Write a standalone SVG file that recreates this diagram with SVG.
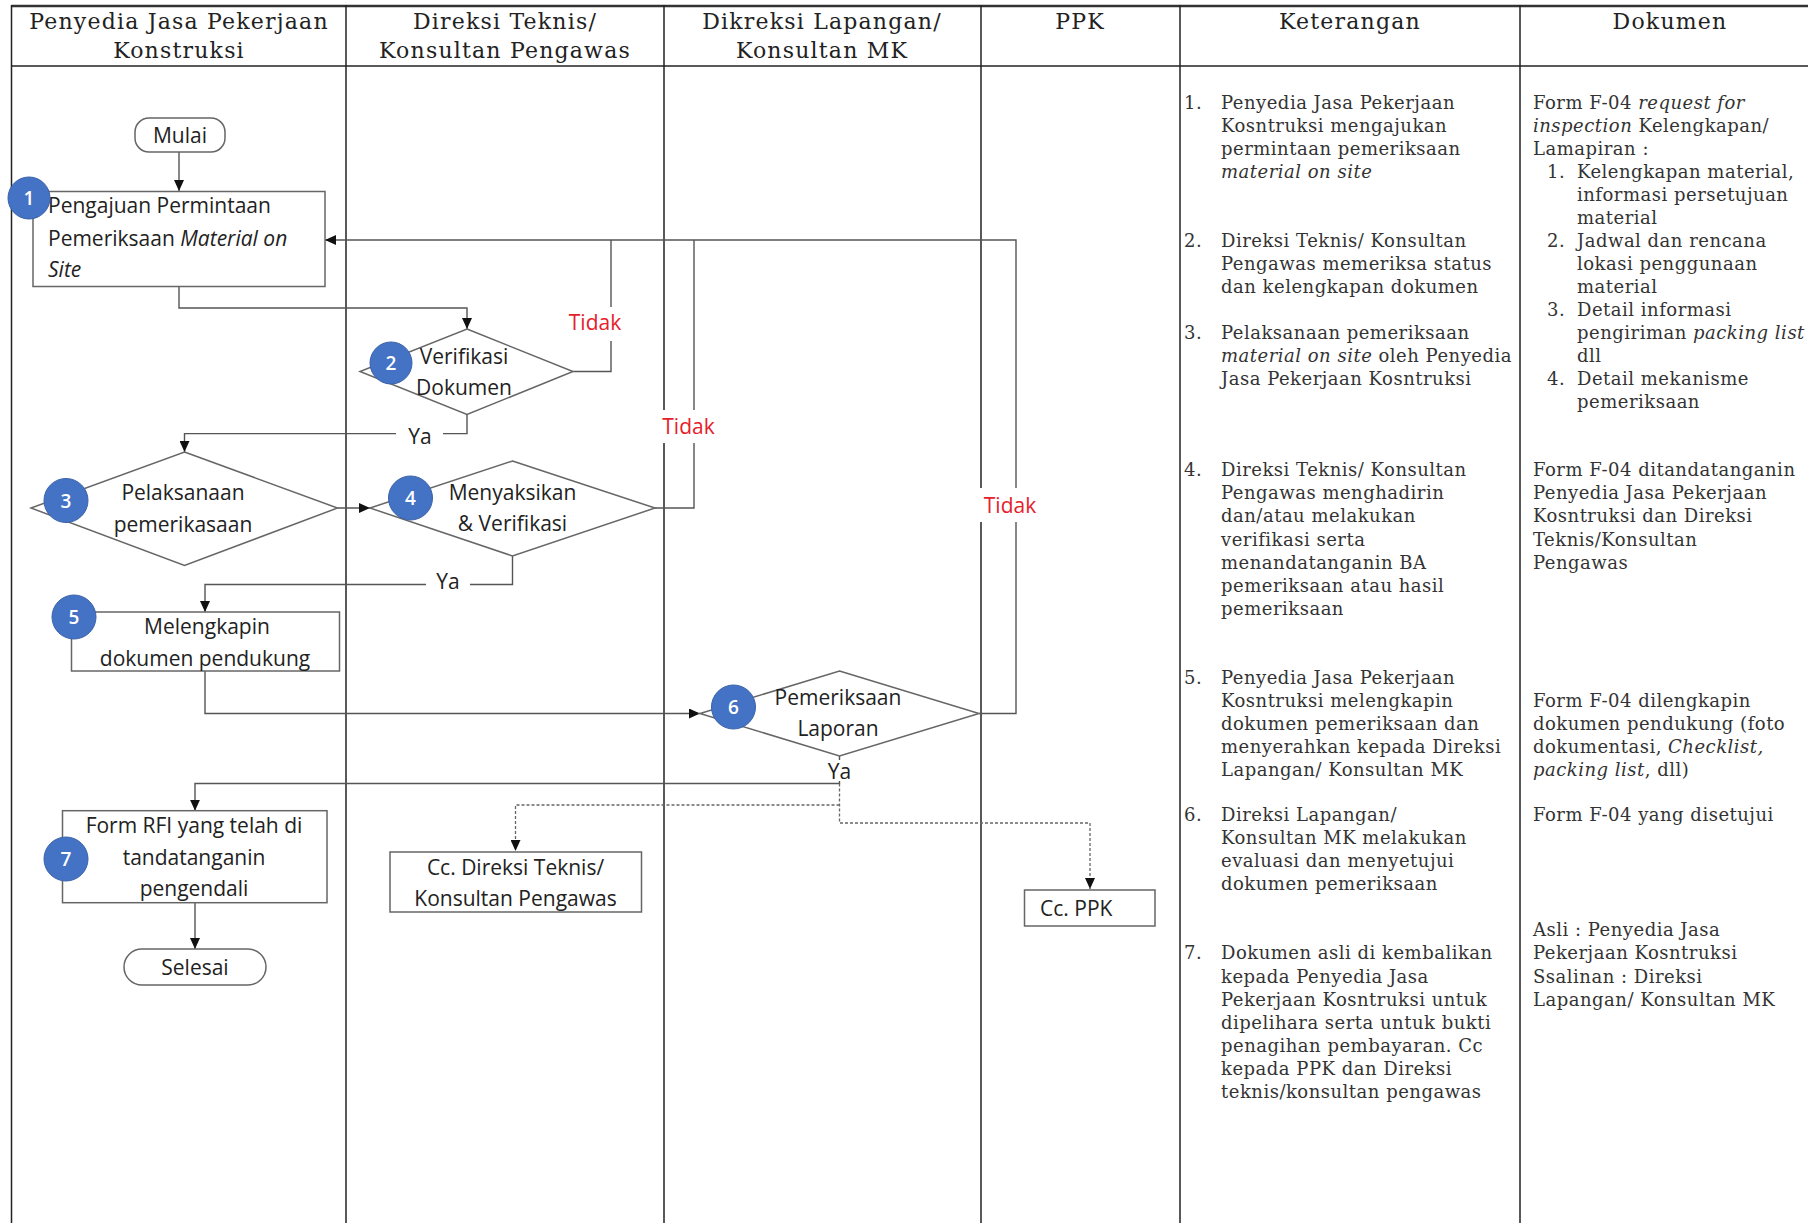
<svg xmlns="http://www.w3.org/2000/svg" width="1808" height="1223" viewBox="0 0 1808 1223">
<style>
.grid{stroke:#222;stroke-width:1.5;fill:none}
.hdr{font-family:"DejaVu Serif",serif;font-size:22px;letter-spacing:1.2px;fill:#222;text-anchor:middle}
.ket{font-family:"DejaVu Serif",serif;font-size:18px;letter-spacing:0.5px;fill:#333}
.node{fill:#fff;stroke:#666;stroke-width:1.5}
.t{font-family:"Open Sans","Liberation Sans",sans-serif;font-size:21px;fill:#222}
.c{text-anchor:middle}
.con{fill:none;stroke:#555;stroke-width:1.4}
.dash{fill:none;stroke:#666;stroke-width:1.3;stroke-dasharray:3 2}
.red{font-family:"Open Sans","Liberation Sans",sans-serif;font-size:21px;fill:#e5202a;text-anchor:middle}
.bg{fill:#fff}
.badge{fill:#4472c4;stroke:#3a62a8;stroke-width:1}
.num{font-family:"Open Sans","Liberation Sans",sans-serif;font-size:19px;font-weight:600;fill:#fff;text-anchor:middle}
.i{font-style:italic}
</style>
<defs>
<marker id="ah" markerUnits="userSpaceOnUse" markerWidth="11" markerHeight="10" refX="11" refY="5" orient="auto">
<path d="M0,0 L11,5 L0,10 z" fill="#111"/>
</marker>
</defs>
<rect width="1808" height="1223" fill="#fff"/>

<g id="table">
<line x1="11.5" y1="6" x2="1808" y2="6" stroke="#333" stroke-width="2.5"/>
<line class="grid" x1="11.5" y1="66" x2="1808" y2="66"/>
<line class="grid" x1="11.5" y1="5" x2="11.5" y2="1223"/>
<line class="grid" x1="346" y1="5" x2="346" y2="1223"/>
<line class="grid" x1="664" y1="5" x2="664" y2="1223"/>
<line class="grid" x1="981" y1="5" x2="981" y2="1223"/>
<line class="grid" x1="1180" y1="5" x2="1180" y2="1223"/>
<line class="grid" x1="1520" y1="5" x2="1520" y2="1223"/>
<text class="hdr" x="179" y="28.5">Penyedia Jasa Pekerjaan</text>
<text class="hdr" x="179" y="57.5">Konstruksi</text>
<text class="hdr" x="505" y="28.5">Direksi Teknis/</text>
<text class="hdr" x="505" y="57.5">Konsultan Pengawas</text>
<text class="hdr" x="822" y="28.5">Dikreksi Lapangan/</text>
<text class="hdr" x="822" y="57.5">Konsultan MK</text>
<text class="hdr" x="1080" y="28.5">PPK</text>
<text class="hdr" x="1350" y="28.5">Keterangan</text>
<text class="hdr" x="1670" y="28.5">Dokumen</text>
</g>

<g id="connectors">
<path class="con" d="M179,152 V191" marker-end="url(#ah)"/>
<path class="con" d="M179,286.5 V308 H467 V329" marker-end="url(#ah)"/>
<path class="con" d="M467,414.5 V433.6 H184.5 V452" marker-end="url(#ah)"/>
<path class="con" d="M337.5,508 H370" marker-end="url(#ah)"/>
<path class="con" d="M512.5,556 V584.5 H205 V612" marker-end="url(#ah)"/>
<path class="con" d="M205,671 V713.5 H700" marker-end="url(#ah)"/>
<path class="con" d="M839.5,756 V783.5 H195 V810.7" marker-end="url(#ah)"/>
<path class="con" d="M195,902.7 V949" marker-end="url(#ah)"/>
<path class="con" d="M573,371.5 H611 V240"/>
<path class="con" d="M655,508 H694 V240"/>
<path class="con" d="M979,713.5 H1016 V240 H325" marker-end="url(#ah)"/>
<path class="dash" d="M839.5,783.5 V823 H1090 V889" marker-end="url(#ah)"/>
<path class="dash" d="M839.5,805 H515.5 V851" marker-end="url(#ah)"/>
</g>

<g id="labels">
<rect class="bg" x="567" y="307" width="57" height="34"/>
<text class="red" x="595" y="329.5">Tidak</text>
<rect class="bg" x="661" y="410" width="55" height="33"/>
<text class="red" x="688.5" y="433.5">Tidak</text>
<rect class="bg" x="979" y="488" width="59" height="34"/>
<text class="red" x="1010" y="512.5">Tidak</text>
<rect class="bg" x="396" y="424" width="47" height="22"/>
<text class="t c" x="420" y="444">Ya</text>
<rect class="bg" x="426" y="571" width="44" height="22"/>
<text class="t c" x="448" y="589">Ya</text>
<rect class="bg" x="826" y="760" width="28" height="21"/>
<text class="t c" x="839.5" y="778.5">Ya</text>
</g>

<g id="mulai">
<rect class="node" x="135" y="118" width="90" height="34" rx="14"/>
<text class="t c" x="180" y="142.5">Mulai</text>
</g>

<g id="n1">
<rect class="node" x="33" y="191.5" width="292" height="95"/>
<text class="t" x="48" y="213">Pengajuan Permintaan</text>
<text class="t" x="48" y="246">Pemeriksaan <tspan class="i">Material on</tspan></text>
<text class="t i" x="48" y="277">Site</text>
<circle class="badge" cx="29" cy="198" r="21"/>
<text class="num" x="29" y="205">1</text>
</g>

<g id="n2">
<polygon class="node" points="467,329 573,371.5 467,414.5 360,371.5"/>
<text class="t c" x="464" y="363.5">Verifikasi</text>
<text class="t c" x="464" y="394.5">Dokumen</text>
<circle class="badge" cx="391" cy="363" r="21"/>
<text class="num" x="391" y="370">2</text>
</g>

<g id="n3">
<polygon class="node" points="184.5,452 337.5,508 184.5,565.5 31,508"/>
<text class="t c" x="183" y="500">Pelaksanaan</text>
<text class="t c" x="183" y="531.5">pemerikasaan</text>
<circle class="badge" cx="66" cy="500.5" r="22"/>
<text class="num" x="66" y="507.5">3</text>
</g>

<g id="n4">
<polygon class="node" points="512.5,461 655,508 512.5,556 370,508"/>
<text class="t c" x="512.5" y="500">Menyaksikan</text>
<text class="t c" x="512.5" y="530.5">&amp; Verifikasi</text>
<circle class="badge" cx="410.5" cy="498" r="22"/>
<text class="num" x="410.5" y="505">4</text>
</g>

<g id="n5">
<rect class="node" x="71.5" y="612" width="268" height="59"/>
<text class="t c" x="207" y="634">Melengkapin</text>
<text class="t c" x="205" y="665.5">dokumen pendukung</text>
<circle class="badge" cx="74" cy="617" r="22"/>
<text class="num" x="74" y="624">5</text>
</g>

<g id="n6">
<polygon class="node" points="839.5,671 979,713.5 839.5,756 700,713.5"/>
<text class="t c" x="838" y="704.5">Pemeriksaan</text>
<text class="t c" x="838" y="736">Laporan</text>
<circle class="badge" cx="733.5" cy="707" r="22"/>
<text class="num" x="733.5" y="714">6</text>
</g>

<g id="n7">
<rect class="node" x="62.5" y="810.7" width="264.5" height="92"/>
<text class="t c" x="194" y="832.5">Form RFI yang telah di</text>
<text class="t c" x="194" y="864.5">tandatanganin</text>
<text class="t c" x="194" y="895.5">pengendali</text>
<circle class="badge" cx="66" cy="859" r="22"/>
<text class="num" x="66" y="866">7</text>
</g>

<g id="selesai">
<rect class="node" x="124" y="949" width="142" height="36" rx="18"/>
<text class="t c" x="195" y="974.5">Selesai</text>
</g>

<g id="cc-direksi">
<rect class="node" x="390" y="852" width="251.5" height="60"/>
<text class="t c" x="515.5" y="874.5">Cc. Direksi Teknis/</text>
<text class="t c" x="515.5" y="905.5">Konsultan Pengawas</text>
</g>

<g id="cc-ppk">
<rect class="node" x="1024.5" y="890" width="130.5" height="36"/>
<text class="t" x="1040" y="915.5">Cc. PPK</text>
</g>

<g id="keterangan">
<text class="ket" x="1184" y="108.5">1.</text>
<text class="ket" x="1221" y="108.5">Penyedia Jasa Pekerjaan</text>
<text class="ket" x="1221" y="131.5">Kosntruksi mengajukan</text>
<text class="ket" x="1221" y="154.6">permintaan pemeriksaan</text>
<text class="ket i" x="1221" y="177.7">material on site</text>
<text class="ket" x="1184" y="246.8">2.</text>
<text class="ket" x="1221" y="246.8">Direksi Teknis/ Konsultan</text>
<text class="ket" x="1221" y="269.9">Pengawas memeriksa status</text>
<text class="ket" x="1221" y="293">dan kelengkapan dokumen</text>
<text class="ket" x="1184" y="339.1">3.</text>
<text class="ket" x="1221" y="339.1">Pelaksanaan pemeriksaan</text>
<text class="ket" x="1221" y="362.2"><tspan class="i">material on site</tspan> oleh Penyedia</text>
<text class="ket" x="1221" y="385.2">Jasa Pekerjaan Kosntruksi</text>
<text class="ket" x="1184" y="476.3">4.</text>
<text class="ket" x="1221" y="476.3">Direksi Teknis/ Konsultan</text>
<text class="ket" x="1221" y="499.4">Pengawas menghadirin</text>
<text class="ket" x="1221" y="522.4">dan/atau melakukan</text>
<text class="ket" x="1221" y="545.5">verifikasi serta</text>
<text class="ket" x="1221" y="568.6">menandatanganin BA</text>
<text class="ket" x="1221" y="591.6">pemeriksaan atau hasil</text>
<text class="ket" x="1221" y="614.7">pemeriksaan</text>
<text class="ket" x="1184" y="683.9">5.</text>
<text class="ket" x="1221" y="683.9">Penyedia Jasa Pekerjaan</text>
<text class="ket" x="1221" y="706.9">Kosntruksi melengkapin</text>
<text class="ket" x="1221" y="730">dokumen pemeriksaan dan</text>
<text class="ket" x="1221" y="753.1">menyerahkan kepada Direksi</text>
<text class="ket" x="1221" y="776.1">Lapangan/ Konsultan MK</text>
<text class="ket" x="1184" y="821.1">6.</text>
<text class="ket" x="1221" y="821.1">Direksi Lapangan/</text>
<text class="ket" x="1221" y="844.1">Konsultan MK melakukan</text>
<text class="ket" x="1221" y="867.2">evaluasi dan menyetujui</text>
<text class="ket" x="1221" y="890.3">dokumen pemeriksaan</text>
<text class="ket" x="1184" y="959.4">7.</text>
<text class="ket" x="1221" y="959.4">Dokumen asli di kembalikan</text>
<text class="ket" x="1221" y="982.5">kepada Penyedia Jasa</text>
<text class="ket" x="1221" y="1005.6">Pekerjaan Kosntruksi  untuk</text>
<text class="ket" x="1221" y="1028.6">dipelihara serta untuk bukti</text>
<text class="ket" x="1221" y="1051.7">penagihan pembayaran. Cc</text>
<text class="ket" x="1221" y="1074.8">kepada PPK dan Direksi</text>
<text class="ket" x="1221" y="1097.8">teknis/konsultan pengawas</text>
</g>

<g id="dokumen">
<text class="ket" x="1533" y="108.5">Form F-04 <tspan class="i">request for</tspan></text>
<text class="ket" x="1533" y="131.5"><tspan class="i">inspection</tspan> Kelengkapan/</text>
<text class="ket" x="1533" y="154.6">Lamapiran :</text>
<text class="ket" x="1547" y="177.7">1.</text>
<text class="ket" x="1577" y="177.7">Kelengkapan material,</text>
<text class="ket" x="1577" y="200.7">informasi persetujuan</text>
<text class="ket" x="1577" y="223.8">material</text>
<text class="ket" x="1547" y="246.8">2.</text>
<text class="ket" x="1577" y="246.8">Jadwal dan rencana</text>
<text class="ket" x="1577" y="269.9">lokasi penggunaan</text>
<text class="ket" x="1577" y="293">material</text>
<text class="ket" x="1547" y="316">3.</text>
<text class="ket" x="1577" y="316">Detail informasi</text>
<text class="ket" x="1577" y="339.1">pengiriman <tspan class="i">packing list</tspan></text>
<text class="ket" x="1577" y="362.2">dll</text>
<text class="ket" x="1547" y="385.2">4.</text>
<text class="ket" x="1577" y="385.2">Detail mekanisme</text>
<text class="ket" x="1577" y="408.3">pemeriksaan</text>
<text class="ket" x="1533" y="476.3">Form F-04 ditandatanganin</text>
<text class="ket" x="1533" y="499.4">Penyedia Jasa Pekerjaan</text>
<text class="ket" x="1533" y="522.4">Kosntruksi dan Direksi</text>
<text class="ket" x="1533" y="545.5">Teknis/Konsultan</text>
<text class="ket" x="1533" y="568.6">Pengawas</text>
<text class="ket" x="1533" y="706.9">Form F-04 dilengkapin</text>
<text class="ket" x="1533" y="730">dokumen pendukung (foto</text>
<text class="ket" x="1533" y="753.1">dokumentasi, <tspan class="i">Checklist,</tspan></text>
<text class="ket" x="1533" y="776.1"><tspan class="i">packing list</tspan>, dll)</text>
<text class="ket" x="1533" y="821.1">Form F-04 yang disetujui</text>
<text class="ket" x="1533" y="936.4">Asli : Penyedia Jasa</text>
<text class="ket" x="1533" y="959.4">Pekerjaan Kosntruksi</text>
<text class="ket" x="1533" y="982.5">Ssalinan : Direksi</text>
<text class="ket" x="1533" y="1005.6">Lapangan/ Konsultan MK</text>
</g>
</svg>
